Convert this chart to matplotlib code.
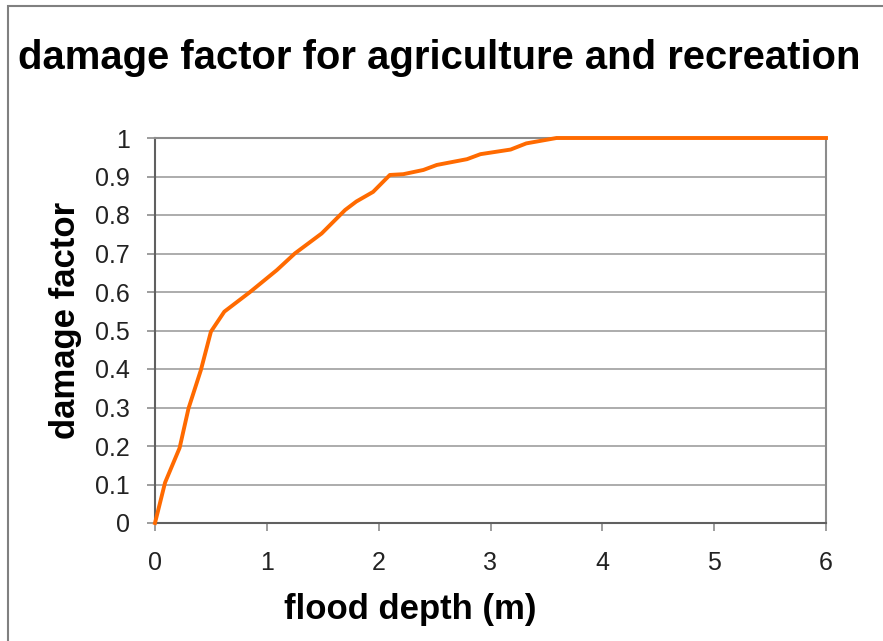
import matplotlib
matplotlib.use("Agg")
import matplotlib.pyplot as plt
from matplotlib.patches import Rectangle

# Damage curve: flood depth (m) vs. damage factor
depth = [0, 0.09, 0.22, 0.30, 0.41, 0.5, 0.62, 0.85, 1.09, 1.25, 1.49, 1.70, 1.80,
         1.95, 2.10, 2.22, 2.40, 2.52, 2.79, 2.91, 3.18, 3.32, 3.59, 6.0]
damage = [0, 0.105, 0.195, 0.298, 0.397, 0.497, 0.549, 0.60, 0.657, 0.70, 0.752, 0.813, 0.835,
          0.86, 0.904, 0.906, 0.917, 0.93, 0.945, 0.958, 0.97, 0.986, 1.0, 1.0]

x_ticks = [0, 1, 2, 3, 4, 5, 6]
y_ticks = [0, 0.1, 0.2, 0.3, 0.4, 0.5, 0.6, 0.7, 0.8, 0.9, 1]
y_tick_labels = ["0", "0.1", "0.2", "0.3", "0.4", "0.5", "0.6", "0.7", "0.8", "0.9", "1"]

plt.rcParams["font.family"] = ["Liberation Sans", "DejaVu Sans"]

W, H = 883, 641
fig = plt.figure(figsize=(W / 100, H / 100), dpi=100)
fig.patch.set_facecolor("white")

# chart frame (left and top edges visible)
fig.add_artist(Rectangle((8 / W, -0.1), 1.2, 1 - 6 / H + 0.1, transform=fig.transFigure,
                         fill=False, edgecolor="#808080", linewidth=1.5))

ax = fig.add_axes([155 / W, 1 - 523 / H, (826 - 155) / W, (523 - 138) / H])
ax.plot(depth, damage, color="#ff6a00", linewidth=2.8, solid_joinstyle="round", zorder=3,
        clip_on=False)

ax.set_xlim(0, 6)
ax.set_ylim(0, 1)
ax.set_xticks(x_ticks)
ax.set_xticklabels([str(t) for t in x_ticks])
ax.set_yticks(y_ticks)
ax.set_yticklabels(y_tick_labels)

ax.yaxis.grid(True, color="#a6a6a6", linewidth=1.3)
ax.set_axisbelow(True)
for side in ["top", "right"]:
    ax.spines[side].set_color("#8c8c8c")
    ax.spines[side].set_linewidth(1.5)
for side in ["left", "bottom"]:
    ax.spines[side].set_color("#606060")
    ax.spines[side].set_linewidth(1.5)

ax.tick_params(axis="both", direction="out", length=6, width=1.2, color="#8c8c8c",
               labelsize=18, labelcolor="#222222")
ax.tick_params(axis="x", pad=14)
ax.tick_params(axis="y", pad=12)

fig.text(410 / W, 1 - 610 / H, "flood depth (m)", ha="center", va="center",
         fontsize=25, fontweight="bold")
fig.text(65 / W, 1 - 320 / H, "damage factor", ha="center", va="center",
         rotation=90, fontsize=25, fontweight="bold")
fig.text(439 / W, 1 - 58 / H, "damage factor for agriculture and recreation",
         ha="center", va="center", fontsize=28.8, fontweight="bold")

fig.savefig("out.png", dpi=100, facecolor="white")
